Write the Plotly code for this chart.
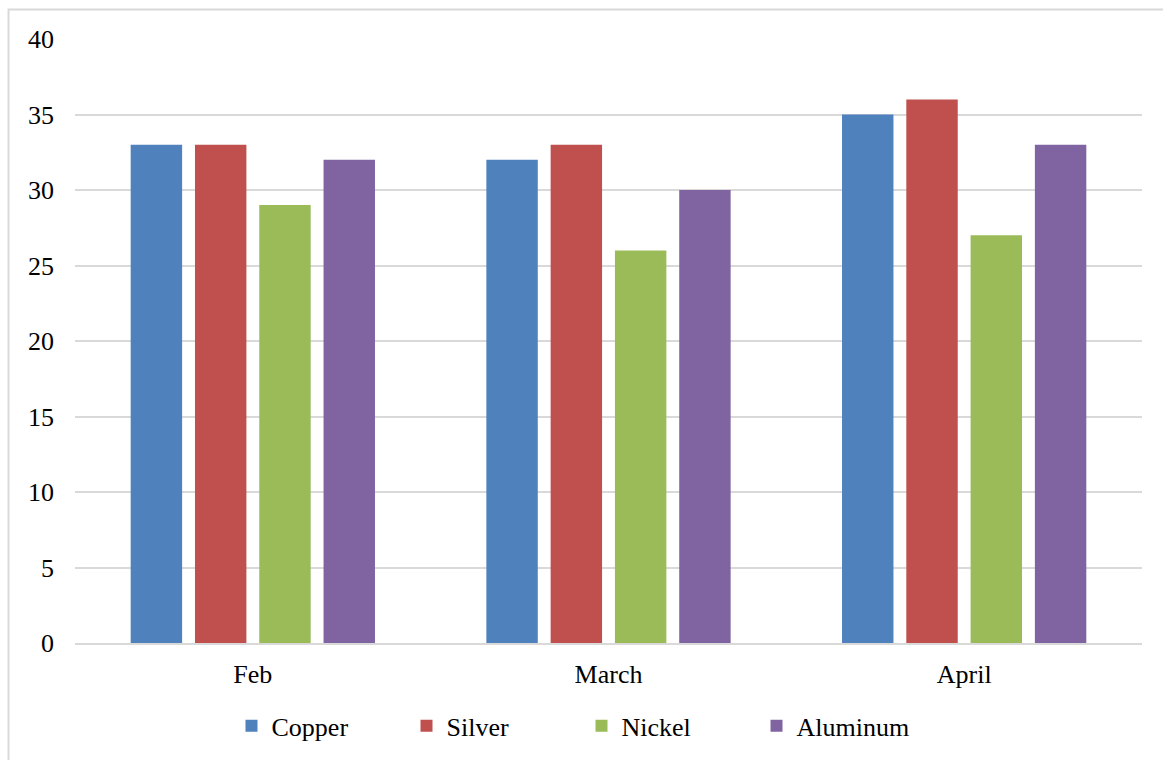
import plotly.graph_objects as go

categories = ["Feb", "March", "April"]
series_names = ["Copper", "Silver", "Nickel", "Aluminum"]
copper = [33, 32, 35]
silver = [33, 33, 36]
nickel = [29, 26, 27]
aluminum = [32, 30, 33]
colors = ["#4F81BD", "#C0504D", "#9BBB59", "#8064A2"]
y_ticks = [0, 5, 10, 15, 20, 25, 30, 35, 40]

values = [copper, silver, nickel, aluminum]

fig = go.Figure()
for name, vals, col in zip(series_names, values, colors):
    fig.add_trace(go.Bar(x=categories, y=vals, name=name, marker=dict(color=col, line=dict(width=0))))

font = dict(family="Liberation Serif, Times New Roman, serif", size=26, color="#000000")

fig.update_layout(
    width=1163, height=760,
    margin=dict(l=75, r=21, t=39, b=117, autoexpand=False),
    paper_bgcolor="white", plot_bgcolor="white",
    font=font,
    barmode="group", bargap=0.277, bargroupgap=0.2,
    showlegend=True,
    legend=dict(orientation="h", x=0.4747, xanchor="center", y=-0.137, yanchor="middle",
                font=font, itemwidth=30, entrywidth=130, traceorder="normal"),
    xaxis=dict(showgrid=False, showline=True, linecolor="#D9D9D9", linewidth=2,
               ticks="", ticklabelstandoff=7, tickfont=font),
    yaxis=dict(range=[0, 40], tickvals=y_ticks, showgrid=True, gridcolor="#D9D9D9",
               gridwidth=2, zeroline=False, showline=False, ticks="",
               ticklabelstandoff=20, tickfont=font),
    shapes=[dict(type="rect", xref="paper", yref="paper", x0=-0.0623, x1=1.1, y0=-0.3, y1=1.049,
                 line=dict(color="#D9D9D9", width=2), fillcolor="rgba(0,0,0,0)", layer="below")],
)

fig.write_html("out.html")
